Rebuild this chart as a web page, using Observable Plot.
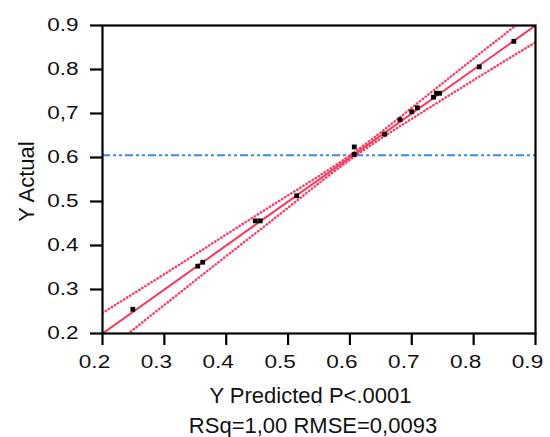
<!DOCTYPE html>
<html>
<head>
<meta charset="utf-8">
<script src="https://cdn.jsdelivr.net/npm/d3@7"></script>
<script src="https://cdn.jsdelivr.net/npm/@observablehq/plot@0.6"></script>
<style>
  html, body { margin: 0; padding: 0; background: #fff; }
  #chart svg { display: block; }
</style>
</head>
<body>
<div id="chart"></div>
<script>
// Observed points: predicted vs actual
const predicted = [0.249, 0.354, 0.362, 0.447, 0.455, 0.514, 0.607, 0.607, 0.656, 0.681, 0.700, 0.709, 0.735, 0.740, 0.745, 0.809, 0.865];
const actual    = [0.255, 0.353, 0.362, 0.456, 0.456, 0.513, 0.624, 0.607, 0.653, 0.686, 0.704, 0.713, 0.737, 0.746, 0.746, 0.806, 0.864];

// Fitted line and its confidence curves
const fitX = [0.2, 0.9];
const fitY = [0.2, 0.9];
const bandX     = [0.2,   0.3,   0.4,   0.5,   0.6,   0.7,   0.8,   0.9];
const bandUpper = [0.247, 0.335, 0.425, 0.514, 0.605, 0.713, 0.825, 0.935];
const bandLower = [0.154, 0.265, 0.376, 0.486, 0.595, 0.688, 0.776, 0.862];

// Mean of the actual response
const meanActual = 0.605;

// Axes
const xTicks = [0.2, 0.3, 0.4, 0.5, 0.6, 0.7, 0.8, 0.9];
const xTickLabels = ["0.2", "0.3", "0.4", "0.5", "0.6", "0.7", "0.8", "0.9"];
const yTicks = [0.2, 0.3, 0.4, 0.5, 0.6, 0.7, 0.8, 0.9];
const yTickLabels = ["0.2", "0.3", "0.4", "0.5", "0.6", "0,7", "0.8", "0.9"];
const xTitle = "Y Predicted P<.0001";
const yTitle = "Y Actual";
const fitSummary = "RSq=1,00 RMSE=0,0093";

const points = predicted.map((p, i) => ({p, a: actual[i]}));
const fit = fitX.map((x, i) => ({x, y: fitY[i]}));
const upper = bandX.map((x, i) => ({x, y: bandUpper[i]}));
const lower = bandX.map((x, i) => ({x, y: bandLower[i]}));

const red = "#ff3358";
const blue = "#3a88f0";
const ink = "#111";

const dotted = {curve: "natural", stroke: "#ff3a62", strokeWidth: 2.4, strokeDasharray: "0.5,3.1", strokeLinecap: "round", clip: true};

const chart = Plot.plot({
  width: 550,
  height: 437,
  marginLeft: 102,
  marginRight: 15,
  marginTop: 25,
  marginBottom: 104,
  style: {fontFamily: "'Liberation Sans', Arial, sans-serif", fontSize: "18.5px", color: ink, background: "#fff"},
  x: {domain: [0.2, 0.9]},
  y: {domain: [0.2, 0.9]},
  marks: [
    Plot.ruleY([meanActual], {stroke: blue, strokeWidth: 2, strokeDasharray: "8,3,3,3,3,3"}),
    Plot.line(upper, {x: "x", y: "y", ...dotted}),
    Plot.line(lower, {x: "x", y: "y", ...dotted}),
    Plot.line(fit, {x: "x", y: "y", stroke: red, strokeWidth: 2, clip: true}),
    Plot.dot(points, {x: "p", y: "a", symbol: "square", r: 2.7, fill: "#000", stroke: "none"}),
    Plot.frame({stroke: "#000", strokeWidth: 2.2}),
    Plot.axisX({ticks: xTicks, tickFormat: d => xTickLabels[xTicks.indexOf(d)], tickSize: 12, tickPadding: 9, strokeWidth: 2.2, stroke: "#000", label: null}),
    Plot.axisY({ticks: yTicks, tickFormat: d => yTickLabels[yTicks.indexOf(d)], tickSize: 12, tickPadding: 12, strokeWidth: 2.2, stroke: "#000", label: null}),
    Plot.text([xTitle], {frameAnchor: "bottom", lineAnchor: "bottom", textAnchor: "middle", dx: -8.5, dy: 69, fontSize: 22, fill: ink}),
    Plot.text([fitSummary], {frameAnchor: "bottom", lineAnchor: "bottom", textAnchor: "middle", dx: -6, dy: 99, fontSize: 22, fill: ink}),
    Plot.text([yTitle], {frameAnchor: "left", lineAnchor: "bottom", textAnchor: "middle", rotate: -90, dx: -68.5, dy: 2, fontSize: 22, fill: ink})
  ]
});

document.getElementById("chart").appendChild(chart);

// Tick labels are set in a wide face: stretch them horizontally about their anchor
function widen(selector, sx, shift) {
  chart.querySelectorAll(selector).forEach(el => {
    const b = el.getBBox();
    const anchor = getComputedStyle(el).textAnchor;
    const ax = anchor === "end" ? b.x + b.width : anchor === "middle" ? b.x + b.width / 2 : b.x;
    const t = el.getAttribute("transform") || "";
    el.setAttribute("transform", `${t} translate(${ax + shift},0) scale(${sx},1) translate(${-ax},0)`);
  });
}
widen('g[aria-label="x-axis tick label"] text', 1.22, -8);
widen('g[aria-label="y-axis tick label"] text', 1.22, 0);
</script>
</body>
</html>
